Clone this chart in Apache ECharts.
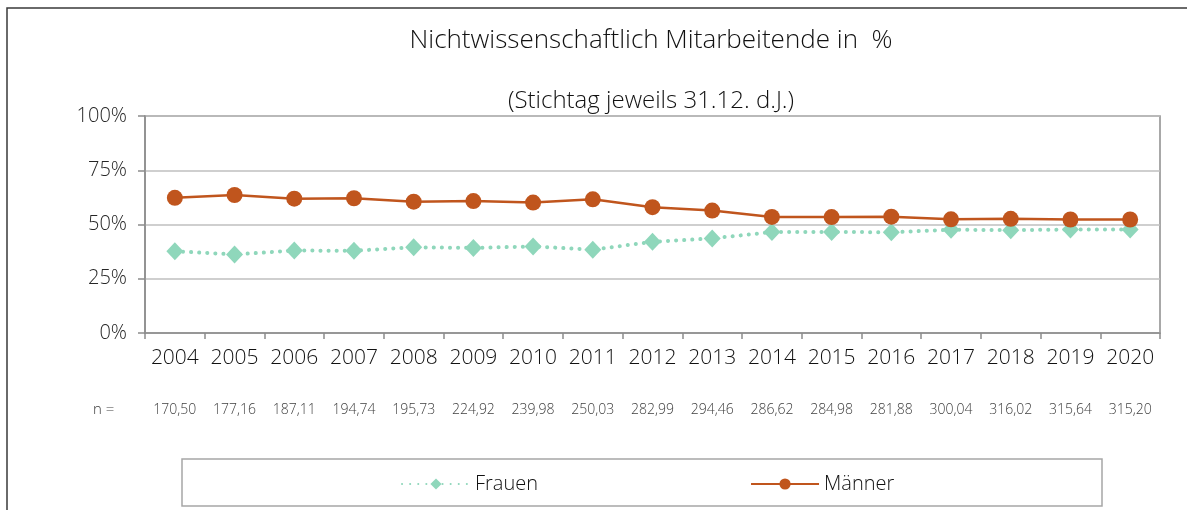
<!DOCTYPE html>
<html>
<head>
<meta charset="utf-8">
<script src="https://cdn.jsdelivr.net/npm/echarts@6/dist/echarts.min.js"></script>
<style>
  html, body { margin: 0; padding: 0; background: #fff; }
  #main { width: 1187px; height: 510px; }
</style>
</head>
<body>
<div id="main"></div>
<script>
// Jahre (Stichtag 31.12.)
var years = ["2004", "2005", "2006", "2007", "2008", "2009", "2010", "2011", "2012",
  "2013", "2014", "2015", "2016", "2017", "2018", "2019", "2020"];
// n = Vollzeitaequivalente je Jahr
var nValues = ["170,50", "177,16", "187,11", "194,74", "195,73", "224,92", "239,98", "250,03",
  "282,99", "294,46", "286,62", "284,98", "281,88", "300,04", "316,02", "315,64", "315,20"];
// Anteile in %
var frauen = [37.7, 36.2, 38.0, 37.9, 39.5, 39.2, 39.9, 38.4, 42.0, 43.6, 46.5, 46.6, 46.4, 47.6, 47.4, 47.7, 47.7];
var maenner = [62.3, 63.6, 61.9, 62.1, 60.5, 60.8, 60.1, 61.6, 58.0, 56.4, 53.5, 53.4, 53.6, 52.4, 52.6, 52.3, 52.3];
var yTicks = [0, 25, 50, 75, 100];

var FONT = "Open Sans";
var chart = echarts.init(document.getElementById("main"));

chart.setOption({
  backgroundColor: "#fff",
  animation: false,
  textStyle: { fontFamily: FONT },
  title: [
    {
      text: "Nichtwissenschaftlich Mitarbeitende in  %",
      left: 646, top: 23, textAlign: "center",
      textStyle: { fontFamily: FONT, fontWeight: 300, fontSize: 26, color: "#111" }
    },
    {
      text: "(Stichtag jeweils 31.12. d.J.)",
      left: 646, top: 84, textAlign: "center",
      textStyle: { fontFamily: FONT, fontWeight: 300, fontSize: 24, color: "#111" }
    }
  ],
  graphic: [
    {
      type: "rect", z: -1, silent: true,
      shape: { x: 7, y: 8, width: 1300, height: 600 },
      style: { fill: "none", stroke: "#3a3a3a", lineWidth: 1.5 }
    },
    {
      type: "rect", silent: true,
      shape: { x: 182, y: 459, width: 920, height: 47 },
      style: { fill: "none", stroke: "#a6a6a6", lineWidth: 1.5 }
    },
    {
      type: "text", silent: true, left: 93, top: 402,
      style: { text: "n =", font: "300 15px '" + FONT + "'", fill: "#404040" }
    }
  ],
  legend: {
    left: 396, top: 469, itemWidth: 68, itemHeight: 14, itemGap: 212,
    textStyle: { fontFamily: FONT, fontWeight: 300, fontSize: 20, color: "#111" },
    data: ["Frauen", "Männer"]
  },
  grid: {
    left: 145, right: 27, top: 116, bottom: 177,
    show: true, borderColor: "#8c8c8c", borderWidth: 1.5
  },
  xAxis: {
    type: "category", data: years, boundaryGap: true,
    axisLine: { lineStyle: { color: "#8c8c8c", width: 1.5 } },
    axisTick: { show: true, length: 6, lineStyle: { color: "#8c8c8c", width: 1.5 } },
    axisLabel: {
      margin: 14, interval: 0,
      formatter: function (v, i) { return "{y|" + v + "}\n{n|" + nValues[i] + "}"; },
      rich: {
        y: { fontFamily: FONT, fontWeight: 300, fontSize: 21, lineHeight: 22, color: "#111" },
        n: { fontFamily: FONT, fontWeight: 300, fontSize: 14, lineHeight: 82, color: "#404040" }
      }
    }
  },
  yAxis: {
    type: "value", min: yTicks[0], max: yTicks[yTicks.length - 1], interval: 25,
    axisLine: { show: true, lineStyle: { color: "#8c8c8c", width: 1.5 } },
    axisTick: { show: true, length: 7, lineStyle: { color: "#8c8c8c", width: 1.5 } },
    axisLabel: {
      margin: 18, formatter: "{value}%",
      fontFamily: FONT, fontWeight: 300, fontSize: 20, color: "#262626"
    },
    splitLine: { lineStyle: { color: "#bfbfbf", width: 1.5 } }
  },
  series: [
    {
      name: "Frauen", type: "line", data: frauen,
      symbol: "diamond", symbolSize: [17, 18],
      itemStyle: { color: "#8fd7bb" },
      lineStyle: { color: "#8fd7bb", width: 4, type: [0.1, 8], cap: "round" },
      z: 2
    },
    {
      name: "Männer", type: "line", data: maenner,
      symbol: "circle", symbolSize: 16,
      itemStyle: { color: "#c0551d" },
      lineStyle: { color: "#c0551d", width: 2.5 },
      z: 3
    }
  ]
});
</script>
</body>
</html>
